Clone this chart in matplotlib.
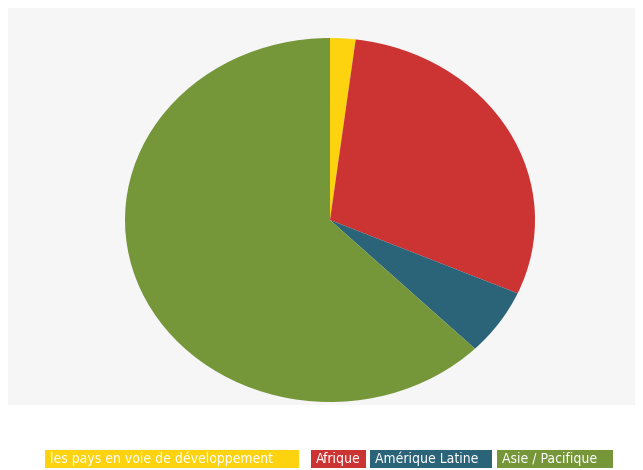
import matplotlib
matplotlib.use("Agg")
import matplotlib.pyplot as plt
from matplotlib.patches import Rectangle

labels = ["les pays en voie de développement", "Afrique", "Amérique Latine", "Asie / Pacifique"]
values = [2.0, 29.6, 5.9, 62.5]
colors = ["#fdd20e", "#cc3333", "#2b6479", "#76963a"]

W, H = 643, 470
fig = plt.figure(figsize=(W / 100, H / 100), dpi=100)
fig.patch.set_facecolor("white")

# background panel
fig.patches.append(Rectangle((8 / W, 1 - 405 / H), 627 / W, 397 / H,
                             transform=fig.transFigure, facecolor="#f6f6f6",
                             edgecolor="none", zorder=-5))

ax = fig.add_axes([125 / W, 1 - 402 / H, 410 / W, 364 / H])
ax.set_zorder(5)
ax.pie(values, colors=colors, startangle=90, counterclock=False,
       wedgeprops=dict(linewidth=0))
ax.set_xlim(-1, 1)
ax.set_ylim(-1, 1)
ax.set_aspect("auto")
ax.axis("off")

# legend boxes
box_x = [45, 311, 370, 497]
box_w = [254, 55, 122, 116]
y0, bh = 450, 18
for lab, c, x, w in zip(labels, colors, box_x, box_w):
    fig.patches.append(Rectangle((x / W, 1 - (y0 + bh) / H), w / W, bh / H,
                                 transform=fig.transFigure, facecolor=c,
                                 edgecolor="none", zorder=1))
    fig.text((x + 5) / W, 1 - (y0 + bh / 2) / H, lab, color="white",
             fontsize=10, family="DejaVu Sans", fontstretch="condensed",
             va="center", ha="left", zorder=2)

fig.savefig("out.png", dpi=100)
